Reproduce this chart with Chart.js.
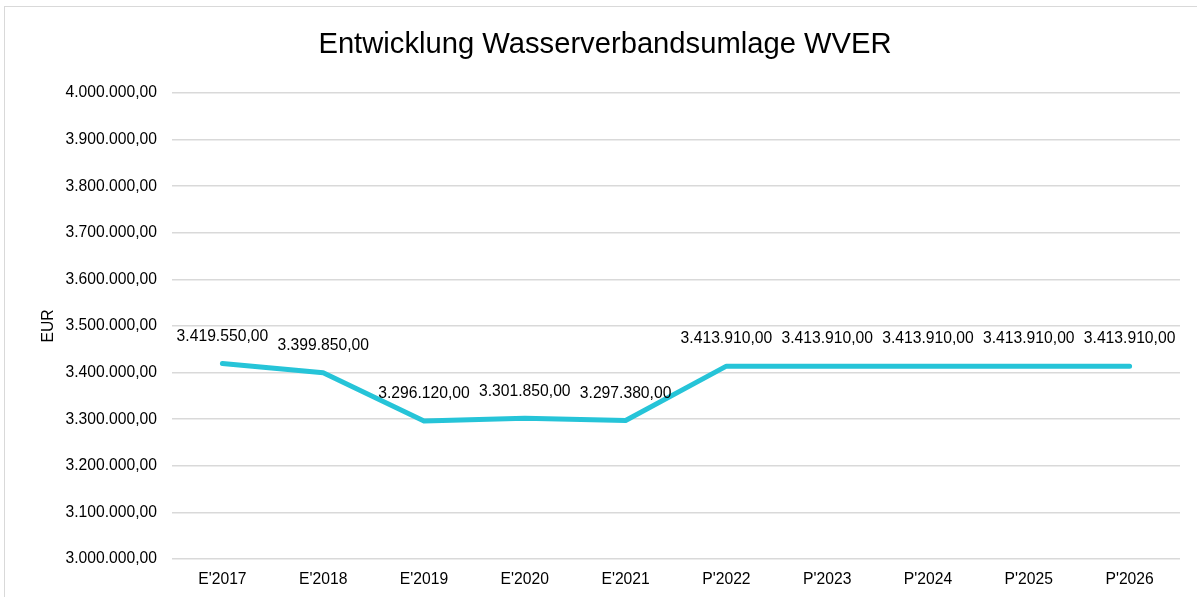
<!DOCTYPE html>
<html>
<head>
<meta charset="utf-8">
<script src="https://cdn.jsdelivr.net/npm/chart.js@4/dist/chart.umd.min.js"></script>
<style>
  body { margin: 0; background: #fff; overflow: hidden; }
  #rahmen { position: absolute; left: 4px; top: 6px; width: 1210px; height: 610px; border: 1px solid #d9d9d9; }
  #graficoUmlage { position: absolute; left: 0; top: 0; }
</style>
</head>
<body>
<div id="rahmen"></div>
<canvas id="graficoUmlage" width="1197" height="597"></canvas>
<script>
// Daten aus dem Diagramm
const jahre = ["E'2017", "E'2018", "E'2019", "E'2020", "E'2021", "P'2022", "P'2023", "P'2024", "P'2025", "P'2026"];
const umlage = [3419550, 3399850, 3296120, 3301850, 3297380, 3413910, 3413910, 3413910, 3413910, 3413910];
const achseMin = 3000000;
const achseMax = 4000000;
const achseSchritt = 100000;

// Zahlen im deutschen Format: 3.419.550,00
function formatEUR(v) {
    return v.toLocaleString('de-DE', { minimumFractionDigits: 2, maximumFractionDigits: 2 });
}

// Werte über den Punkten anzeigen
const wertLabels = {
    id: 'wertLabels',
    afterDatasetsDraw(chart) {
        const ctx = chart.ctx;
        const meta = chart.getDatasetMeta(0);
        ctx.save();
        ctx.font = '15.7px "Liberation Sans", Arial, sans-serif';
        ctx.fillStyle = '#000';
        ctx.textAlign = 'center';
        ctx.textBaseline = 'middle';
        meta.data.forEach((pt, i) => {
            ctx.fillText(formatEUR(umlage[i]), pt.x, pt.y - 27);
        });
        ctx.restore();
    }
};

const ctx = document.getElementById('graficoUmlage').getContext('2d');
new Chart(ctx, {
    type: 'line',
    data: {
        labels: jahre,
        datasets: [{
            label: 'Umlage',
            data: umlage,
            borderColor: '#26c4d8',
            borderWidth: 5,
            borderCapStyle: 'round',
            borderJoinStyle: 'round',
            pointRadius: 0,
            tension: 0,
            fill: false
        }]
    },
    options: {
        responsive: false,
        animation: false,
        layout: { padding: { left: 30, right: 17, top: 0, bottom: 0 } },
        plugins: {
            legend: { display: false },
            tooltip: { enabled: false },
            title: {
                display: true,
                text: 'Entwicklung Wasserverbandsumlage WVER',
                color: '#000',
                font: { family: '"Liberation Sans", Arial, sans-serif', size: 29.2, weight: 'normal' },
                padding: { top: 27, bottom: 31 }
            }
        },
        scales: {
            x: {
                offset: true,
                grid: { display: false, drawTicks: false },
                border: { display: false },
                ticks: {
                    color: '#000',
                    padding: 11,
                    maxRotation: 0,
                    font: { family: '"Liberation Sans", Arial, sans-serif', size: 15.7 }
                },
                afterFit(s) { s.height = 38; }
            },
            y: {
                min: achseMin,
                max: achseMax,
                grid: { color: '#d9d9d9', lineWidth: 1.5, drawTicks: false },
                border: { display: false },
                ticks: {
                    stepSize: achseSchritt,
                    color: '#000',
                    padding: 15,
                    font: { family: '"Liberation Sans", Arial, sans-serif', size: 15.7 },
                    callback: v => formatEUR(v)
                },
                title: {
                    display: true,
                    text: 'EUR',
                    color: '#000',
                    padding: { top: 9, bottom: 0 },
                    font: { family: '"Liberation Sans", Arial, sans-serif', size: 15.7 }
                },
                afterFit(s) { s.width = 142; }
            }
        }
    },
    plugins: [wertLabels]
});
</script>
</body>
</html>
